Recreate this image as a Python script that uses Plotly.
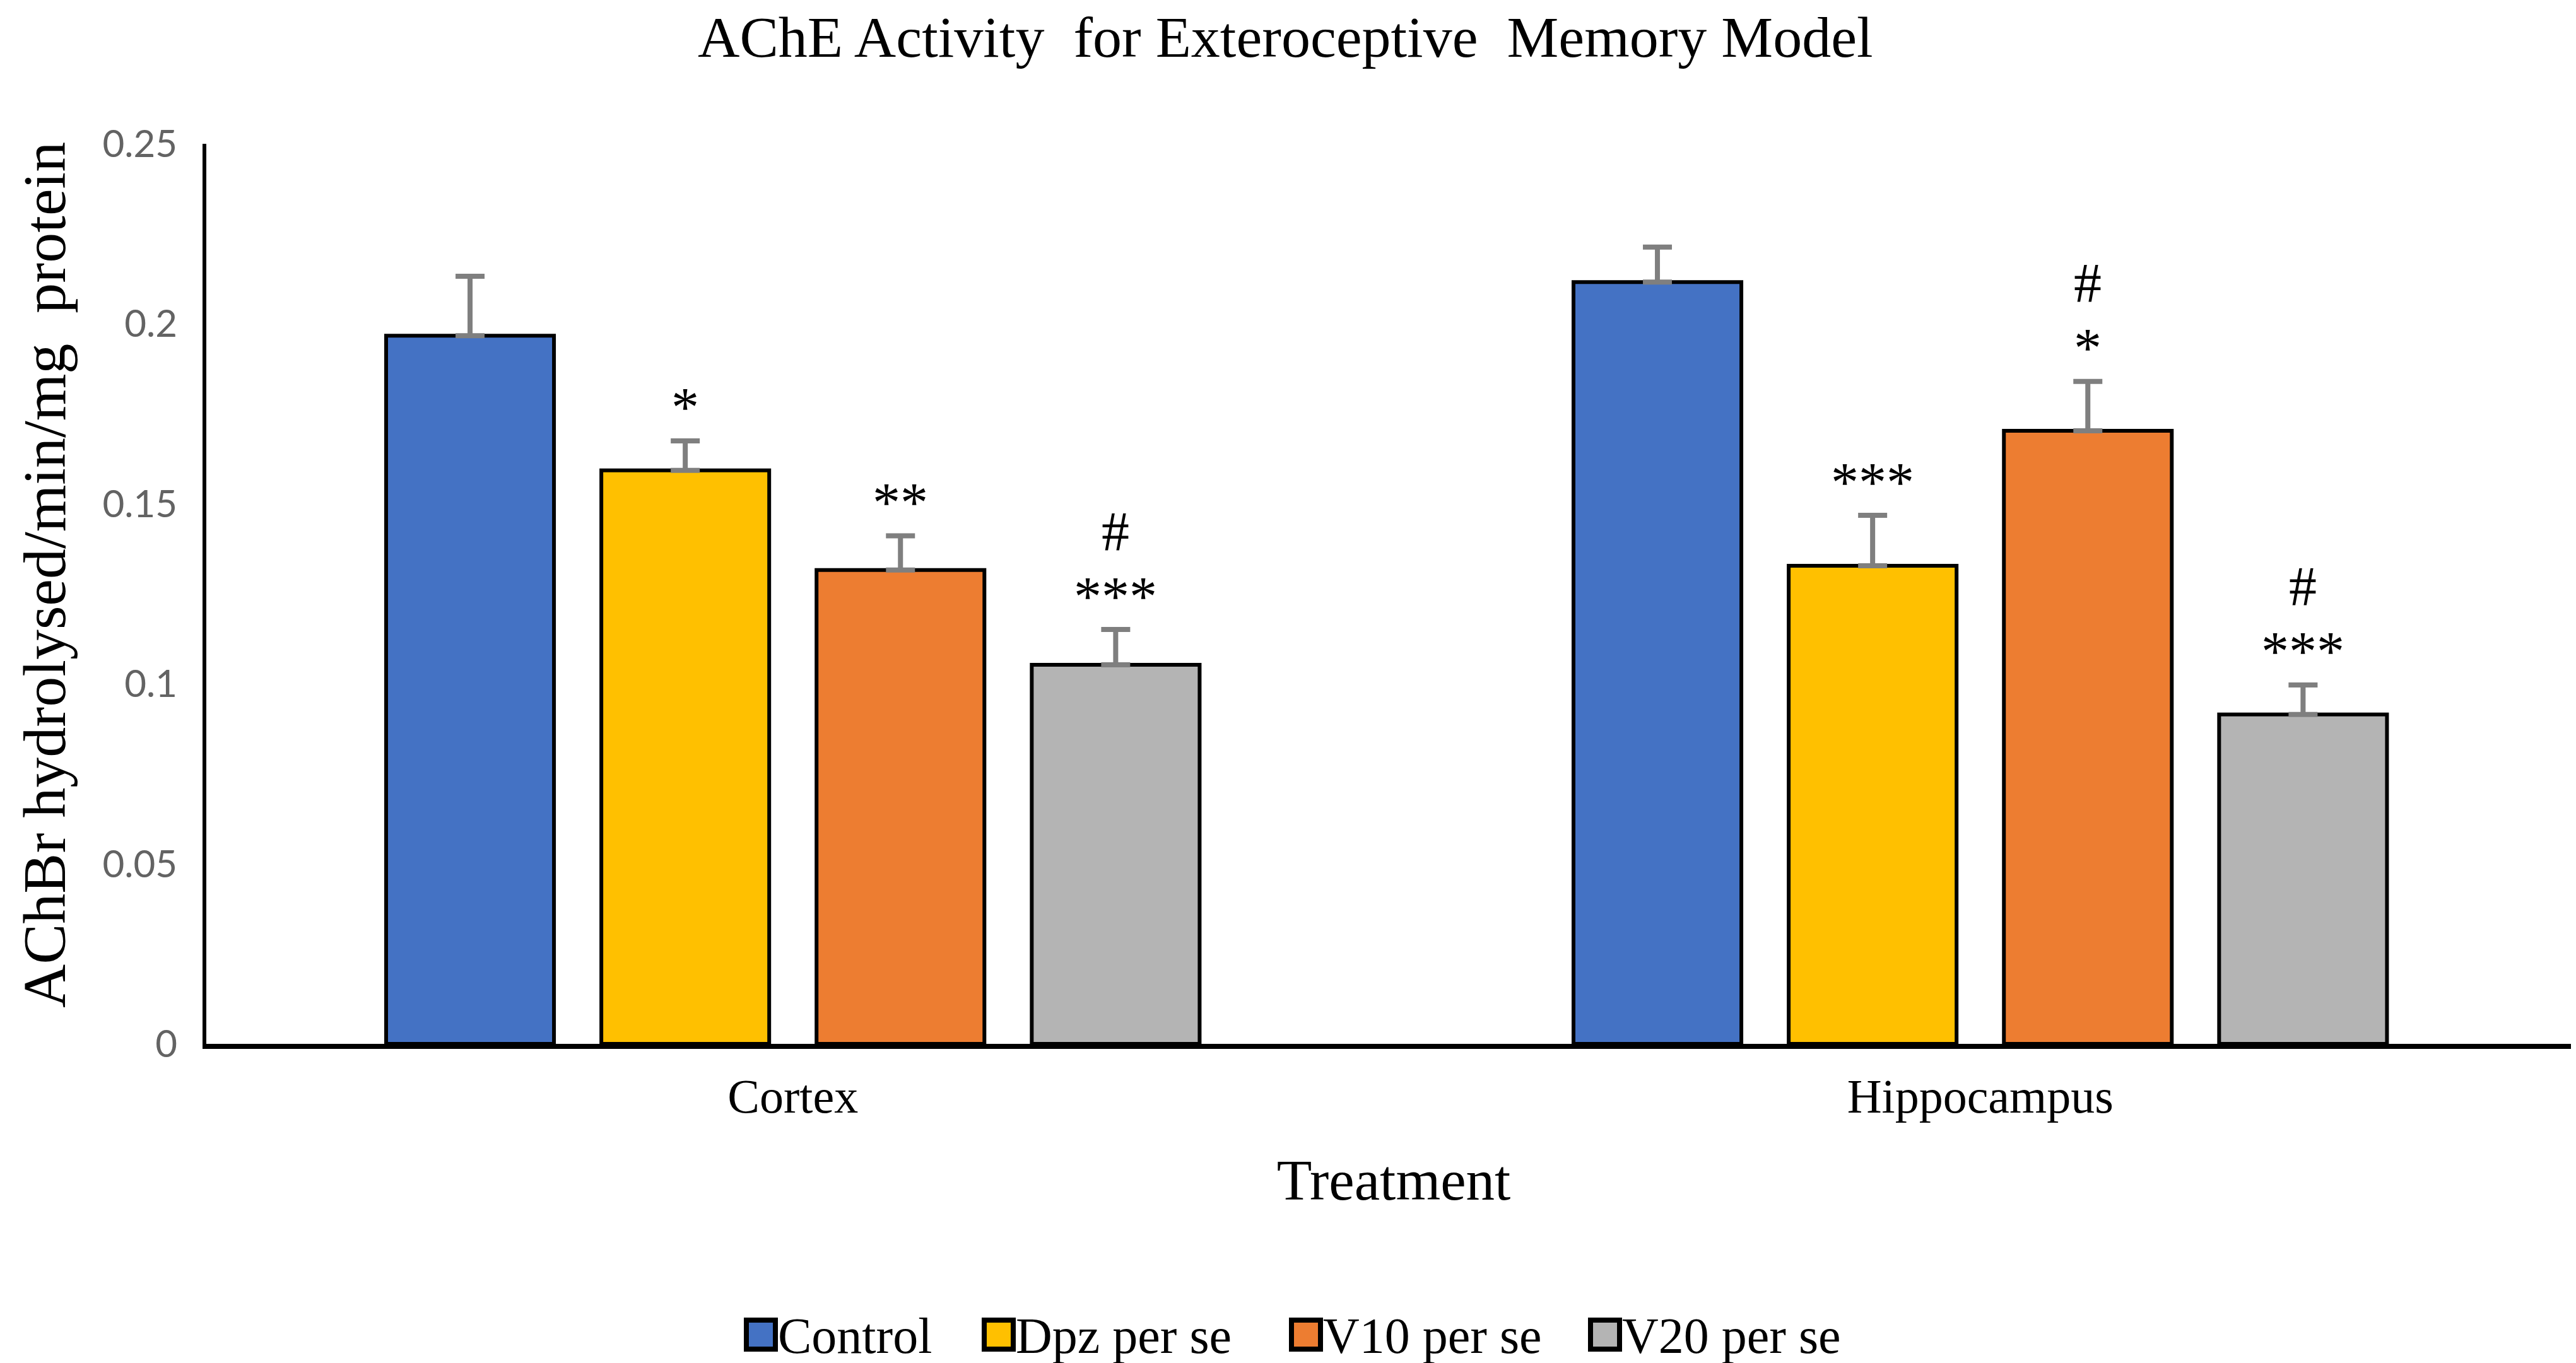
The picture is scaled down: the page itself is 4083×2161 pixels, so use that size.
import plotly.graph_objects as go

# regions on the x axis
regions = ["Cortex", "Hippocampus"]

# groups (legend order)
groups = ["Control", "Dpz per se", "V10 per se", "V20 per se"]
colors = ["#4472C4", "#FFC000", "#ED7D31", "#B4B4B4"]

# mean AChE activity per group, [cortex, hippocampus]
control = [0.1967, 0.2116]
dpz = [0.1593, 0.1328]
v10 = [0.1316, 0.1703]
v20 = [0.1053, 0.0915]

# SEM (drawn upwards only)
control_err = [0.0165, 0.0097]
dpz_err = [0.0082, 0.0140]
v10_err = [0.0095, 0.0137]
v20_err = [0.0098, 0.0082]

# significance marks above each bar: (stars, hash)
control_sig = [("", ""), ("", "")]
dpz_sig = [("*", ""), ("***", "")]
v10_sig = [("**", ""), ("*", "#")]
v20_sig = [("***", "#"), ("***", "#")]

values = [control, dpz, v10, v20]
errors = [control_err, dpz_err, v10_err, v20_err]
sigs = [control_sig, dpz_sig, v10_sig, v20_sig]

serif = "Liberation Serif, Times New Roman, serif"
W, H = 4083, 2161
ML, MT, MB = 319, 220, 514
bargap = 0.275
groupgap = 0.22

fig = go.Figure()
for name, col, vals, errs in zip(groups, colors, values, errors):
    fig.add_trace(go.Bar(
        x=regions, y=vals, name=name, showlegend=False,
        marker=dict(color=col, line=dict(color="black", width=6)),
        error_y=dict(type="data", array=errs, arrayminus=[0] * len(errs),
                     symmetric=False, visible=True,
                     color="#7F7F7F", thickness=8, width=23),
    ))

# stars / hashes, placed over the error bars
slot = (1 - bargap) / len(groups)
ann = []
for j, (vals, errs, sg) in enumerate(zip(values, errors, sigs)):
    for i in range(len(regions)):
        xpos = i + (j - (len(groups) - 1) / 2) * slot
        top = vals[i] + errs[i]
        stars, hsh = sg[i]
        if stars:
            ann.append(dict(x=xpos, y=top, xref="x", yref="y", text=stars,
                            showarrow=False, yanchor="middle", yshift=53,
                            font=dict(family=serif, size=88, color="black")))
        if hsh:
            ann.append(dict(x=xpos, y=top, xref="x", yref="y", text=hsh,
                            showarrow=False, yanchor="middle", yshift=156,
                            font=dict(family=serif, size=88, color="black")))

# pixel -> paper helpers
pw = W - ML
ph = H - MT - MB
def px_x(p):
    return (p - ML) / pw
def px_y(p):
    return (H - MB - p) / ph

# y axis title, placed by hand (sits a bit above the plot centre)
ann.append(dict(x=px_x(62), y=px_y(904), xref="paper", yref="paper",
                text="AChBr hydrolysed/min/mg\u00a0 protein", textangle=-90,
                showarrow=False, xanchor="center", yanchor="middle",
                font=dict(family=serif, size=96, color="black")))

# hand-built legend (big square keys like the original)
leg_left = [1175, 1552, 2039, 2513]
key = 46
leg_mid = 2108
shapes = []
for name, col, x0 in zip(groups, colors, leg_left):
    shapes.append(dict(type="rect", xref="paper", yref="paper",
                       x0=px_x(x0), x1=px_x(x0 + key),
                       y0=px_y(leg_mid + key / 2), y1=px_y(leg_mid - key / 2),
                       fillcolor=col, line=dict(color="black", width=8)))
    ann.append(dict(x=px_x(x0 + key + 2), y=px_y(leg_mid + 2),
                    xref="paper", yref="paper", text=name, showarrow=False,
                    xanchor="left", yanchor="middle",
                    font=dict(family=serif, size=80, color="black")))

fig.update_layout(
    width=W, height=H,
    margin=dict(l=ML, r=0, t=MT, b=MB),
    paper_bgcolor="white", plot_bgcolor="white",
    barmode="group", bargap=bargap, bargroupgap=groupgap,
    title=dict(text="AChE Activity\u00a0 for Exteroceptive\u00a0 Memory Model",
               x=0.497, xref="container", y=1 - 50 / H, yref="container",
               xanchor="center", yanchor="middle",
               font=dict(family=serif, size=92, color="black")),
    showlegend=False,
    annotations=ann,
    shapes=shapes,
)

fig.update_xaxes(
    range=[-0.494, 1.506],
    showline=True, linecolor="black", linewidth=8,
    showgrid=False, ticks="", ticklabelstandoff=10,
    tickfont=dict(family=serif, size=76, color="black"),
    title=dict(text="Treatment", standoff=62,
               font=dict(family=serif, size=91, color="black")),
)
fig.update_yaxes(
    range=[0, 0.25], dtick=0.05,
    showline=True, linecolor="black", linewidth=6,
    showgrid=False, zeroline=False, ticks="", ticklabelstandoff=28,
    tickfont=dict(family="Lato, Carlito, sans-serif", size=60, color="#636363"),
)

fig.write_html("out.html")
